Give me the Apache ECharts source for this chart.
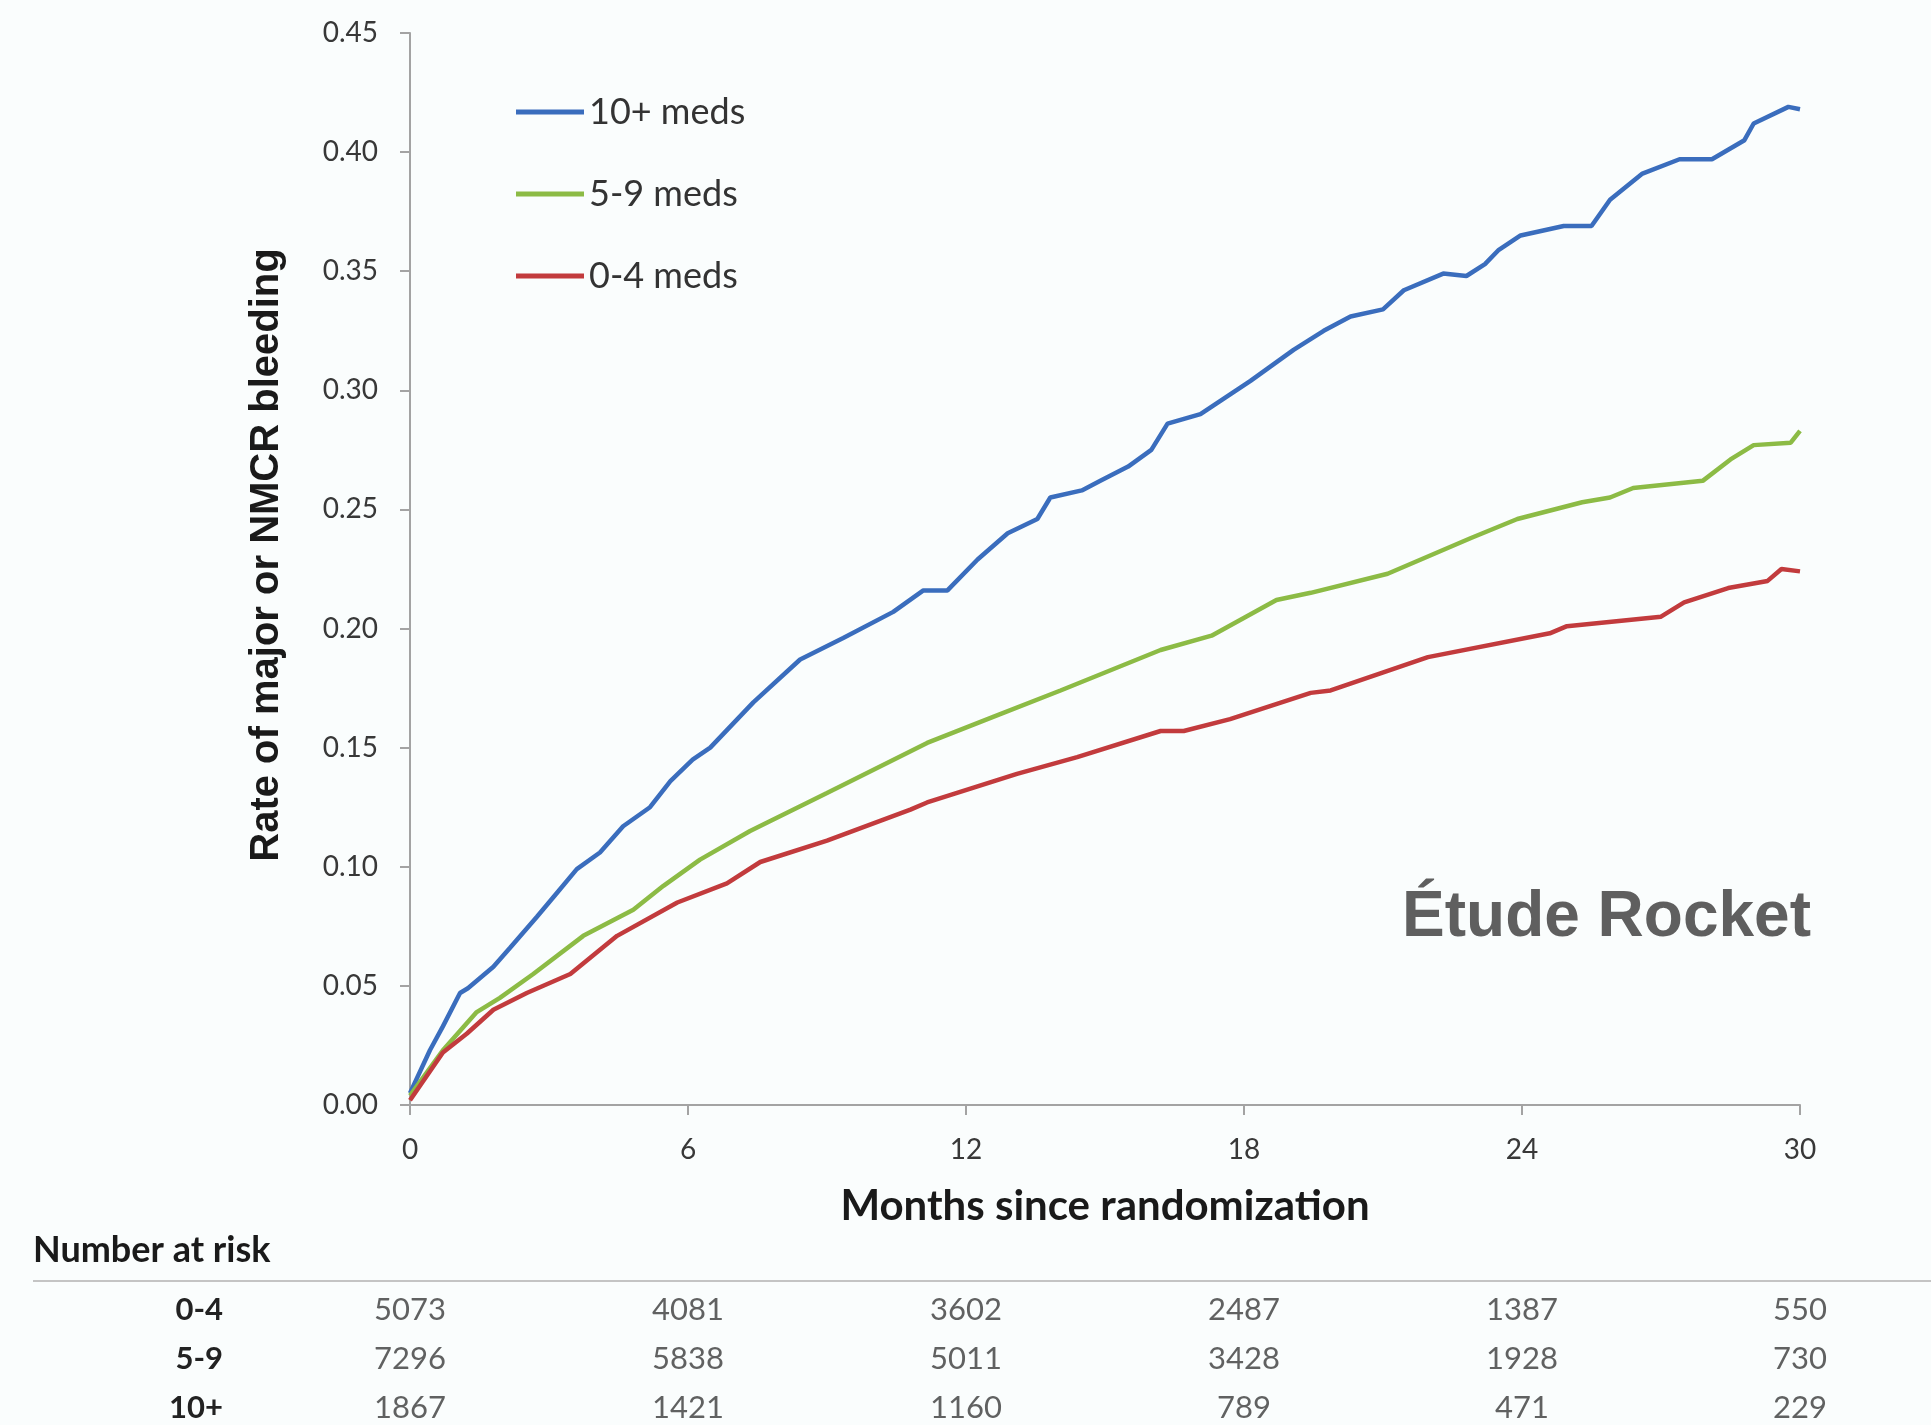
<!DOCTYPE html>
<html>
<head>
<meta charset="utf-8">
<script src="https://cdn.jsdelivr.net/npm/echarts@6/dist/echarts.min.js"></script>
<style>
html,body{margin:0;padding:0;background:#fafdfd;}
#chart{width:1931px;height:1425px;}
</style>
</head>
<body>
<div id="chart"></div>
<script>
// ---- data ----
const months10 = [0, 0.43, 0.71, 1.08, 1.25, 1.8, 2.16, 2.74, 3.17, 3.6, 4.1, 4.6, 5.18, 5.62, 6.1, 6.48, 7.41, 8.42, 9.35, 10.43, 11.08, 11.6, 12.25, 12.9, 13.54, 13.82, 14.5, 14.9, 15.5, 16.0, 16.35, 17.06, 18.14, 19.07, 19.72, 20.3, 21.0, 21.45, 22.3, 22.8, 23.2, 23.5, 23.97, 24.9, 25.5, 25.9, 26.6, 27.4, 28.1, 28.8, 29.0, 29.75, 30.0];
const rate10   = [0.005, 0.023, 0.033, 0.047, 0.049, 0.058, 0.066, 0.079, 0.089, 0.099, 0.106, 0.117, 0.125, 0.136, 0.145, 0.150, 0.169, 0.187, 0.196, 0.207, 0.216, 0.216, 0.229, 0.240, 0.246, 0.255, 0.258, 0.262, 0.268, 0.275, 0.286, 0.290, 0.304, 0.317, 0.325, 0.331, 0.334, 0.342, 0.349, 0.348, 0.353, 0.359, 0.365, 0.369, 0.369, 0.380, 0.391, 0.397, 0.397, 0.405, 0.412, 0.419, 0.418];

const months59 = [0, 0.71, 1.44, 1.94, 2.66, 3.74, 4.82, 5.47, 6.26, 7.34, 9.0, 11.16, 12.6, 14.04, 16.2, 17.3, 18.7, 19.44, 21.1, 22.9, 23.9, 25.3, 25.9, 26.4, 27.9, 28.5, 29.0, 29.8, 30.0];
const rate59   = [0.004, 0.023, 0.039, 0.045, 0.055, 0.071, 0.082, 0.092, 0.103, 0.115, 0.131, 0.152, 0.163, 0.174, 0.191, 0.197, 0.212, 0.215, 0.223, 0.238, 0.246, 0.253, 0.255, 0.259, 0.262, 0.271, 0.277, 0.278, 0.283];

const months04 = [0, 0.71, 1.23, 1.8, 2.52, 3.46, 4.47, 5.77, 6.84, 7.56, 9.0, 10.8, 11.16, 13.1, 14.4, 16.2, 16.7, 17.7, 19.44, 19.87, 21.97, 24.6, 24.97, 27.0, 27.5, 28.45, 29.3, 29.6, 30.0];
const rate04   = [0.002, 0.022, 0.030, 0.040, 0.047, 0.055, 0.071, 0.085, 0.093, 0.102, 0.111, 0.124, 0.127, 0.139, 0.146, 0.157, 0.157, 0.162, 0.173, 0.174, 0.188, 0.198, 0.201, 0.205, 0.211, 0.217, 0.220, 0.225, 0.224];

const seriesNames = ['10+ meds', '5-9 meds', '0-4 meds'];

const riskTimes  = [0, 6, 12, 18, 24, 30];
const riskGroups = ['0-4', '5-9', '10+'];
const risk04 = [5073, 4081, 3602, 2487, 1387, 550];
const risk59 = [7296, 5838, 5011, 3428, 1928, 730];
const risk10 = [1867, 1421, 1160, 789, 471, 229];

// ---- build ----
const pairs = (xs, ys) => xs.map((x, i) => [x, ys[i]]);
const riskRows = [risk04, risk59, risk10];
const riskData = [];
riskRows.forEach((row, r) => row.forEach((n, c) => riskData.push([riskTimes[c], riskGroups[r], n])));

const LBL = 'Lato, "Open Sans", sans-serif';
const axisGray = '#a3a3a3';

const chart = echarts.init(document.getElementById('chart'));
chart.setOption({
  backgroundColor: '#fafdfd',
  animation: false,
  grid: [
    {left: 410, right: 131, top: 33, bottom: 320, outerBoundsMode: 'none'},
    {left: 410, right: 131, top: 1310, height: 98, outerBoundsMode: 'none'}
  ],
  legend: {
    data: seriesNames,
    orient: 'vertical',
    left: 511, top: 89,
    itemWidth: 68, itemHeight: 5, itemGap: 46,
    icon: 'rect',
    textStyle: {fontFamily: LBL, fontSize: 36, color: '#333', lineHeight: 36}
  },
  xAxis: [
    {
      gridIndex: 0, type: 'value', min: 0, max: 30, interval: 6,
      name: 'Months since randomization', nameLocation: 'middle', nameGap: 80,
      nameTextStyle: {fontFamily: LBL, fontWeight: 'bold', fontSize: 42, color: '#1a1a1a'},
      axisLine: {show: true, lineStyle: {color: axisGray, width: 2}},
      axisTick: {show: true, length: 10, lineStyle: {color: axisGray, width: 2}},
      axisLabel: {fontFamily: LBL, fontSize: 28, color: '#383838', margin: 31},
      splitLine: {show: false}
    },
    {gridIndex: 1, type: 'value', min: 0, max: 30, show: false}
  ],
  yAxis: [
    {
      gridIndex: 0, type: 'value', min: 0, max: 0.45, interval: 0.05,
      axisLine: {show: true, lineStyle: {color: axisGray, width: 2}},
      axisTick: {show: true, length: 10, lineStyle: {color: axisGray, width: 2}},
      axisLabel: {fontFamily: LBL, fontSize: 28, color: '#383838', margin: 32, formatter: v => v.toFixed(2)},
      splitLine: {show: false}
    },
    {
      gridIndex: 1, type: 'category', data: riskGroups, inverse: true, boundaryGap: false,
      axisLine: {show: false}, axisTick: {show: false}, splitLine: {show: false},
      axisLabel: {fontFamily: LBL, fontWeight: 'bold', fontSize: 31, color: '#222', margin: 187}
    }
  ],
  series: [
    {name: seriesNames[0], type: 'line', data: pairs(months10, rate10), showSymbol: false, symbol: 'none',
     color: '#3a6dbd', lineStyle: {width: 4.5, color: '#3a6dbd'}},
    {name: seriesNames[1], type: 'line', data: pairs(months59, rate59), showSymbol: false, symbol: 'none',
     color: '#8cbb45', lineStyle: {width: 4.5, color: '#8cbb45'}},
    {name: seriesNames[2], type: 'line', data: pairs(months04, rate04), showSymbol: false, symbol: 'none',
     color: '#c23b3d', lineStyle: {width: 4.5, color: '#c23b3d'}},
    {type: 'scatter', xAxisIndex: 1, yAxisIndex: 1, data: riskData, symbolSize: 1,
     itemStyle: {color: 'rgba(0,0,0,0)'},
     label: {show: true, position: 'inside', formatter: p => String(p.value[2]),
             fontFamily: LBL, fontSize: 31, color: '#3a3a3a'},
     silent: true}
  ],
  graphic: [
    {type: 'text', x: 267, y: 555, rotation: Math.PI / 2,
     style: {text: 'Rate of major or NMCR bleeding', font: 'bold 40px "Liberation Sans", Arial, sans-serif',
             fill: '#1a1a1a', textAlign: 'center', textVerticalAlign: 'middle'}},
    {type: 'text', x: 1811, y: 918,
     style: {text: 'Étude Rocket', font: 'bold 64px "Liberation Sans", Arial, sans-serif',
             fill: '#5f5f5f', textAlign: 'right', textVerticalAlign: 'middle'}},
    {type: 'text', x: 33, y: 1250,
     style: {text: 'Number at risk', font: 'bold 36px Lato, "Open Sans", sans-serif',
             fill: '#1a1a1a', textAlign: 'left', textVerticalAlign: 'middle'}},
    {type: 'line', shape: {x1: 33, y1: 1281, x2: 1931, y2: 1281},
     style: {stroke: '#c4c4c4', lineWidth: 2}}
  ]
});
</script>
</body>
</html>
